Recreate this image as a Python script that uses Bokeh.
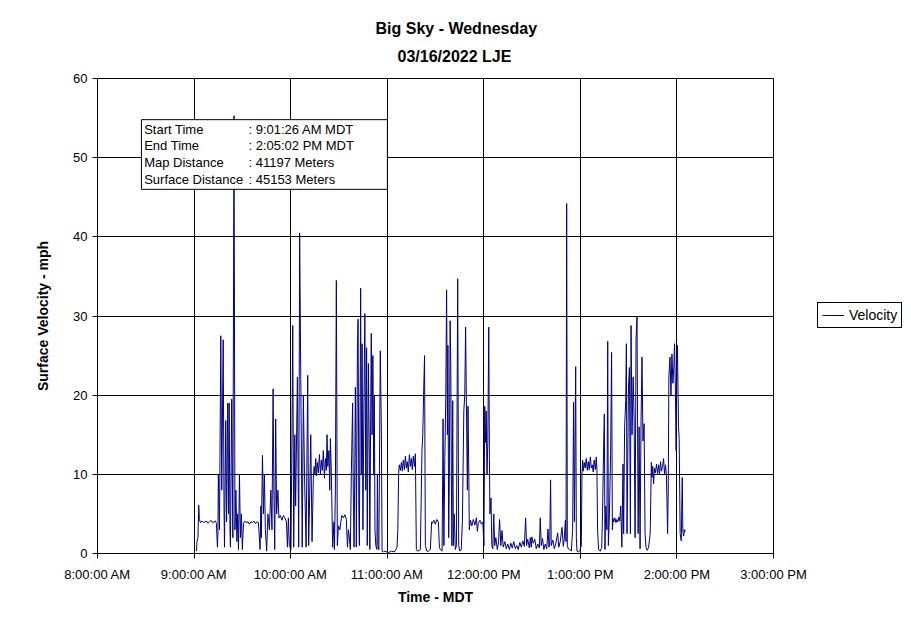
from bokeh.plotting import figure
from bokeh.models import (Range1d, FixedTicker, Title, Legend, LegendItem,
                          BoxAnnotation, Label)
from bokeh.embed import file_html
from bokeh.resources import INLINE

# ---------------- data ----------------
title_line1 = "Big Sky - Wednesday"
title_line2 = "03/16/2022 LJE"
x_label = "Time - MDT"
y_label = "Surface Velocity - mph"
series_name = "Velocity"

# tick positions (minutes after 8:00 AM) and labels
tick_minutes = [0, 60, 120, 180, 240, 300, 360, 420]
tick_labels = ["8:00:00 AM", "9:00:00 AM", "10:00:00 AM", "11:00:00 AM",
               "12:00:00 PM", "1:00:00 PM", "2:00:00 PM", "3:00:00 PM"]
y_ticks = [0, 10, 20, 30, 40, 50, 60]

info_names = ["Start Time", "End Time", "Map Distance", "Surface Distance"]
info_values = [": 9:01:26 AM MDT", ": 2:05:02 PM MDT", ": 41197 Meters", ": 45153 Meters"]

# time in minutes after 8:00 AM
minutes = [
    61.5, 61.8, 62.4, 62.9, 63.3, 64.0, 64.9, 65.8, 66.8, 67.7, 68.6, 69.6, 70.5, 71.4, 72.4, 73.3, 73.9,
    74.5, 74.8, 75.1, 75.8, 76.6, 77.2, 78.1, 78.6, 78.9, 79.7, 80.2, 80.9, 81.4, 81.8, 82.3, 82.6,
    83.4, 84.1, 84.8, 85.4, 86.0, 86.6, 87.1, 87.6, 88.2, 88.8, 89.4, 90.0,
    90.7, 91.6, 92.5, 93.5, 94.4, 95.3, 96.3, 97.2, 98.1, 99.1, 100.0,
    101.0, 101.5, 101.8, 102.5, 103.1, 103.7, 104.3, 105.1, 105.9, 106.8, 107.7, 108.4, 109.1, 109.6,
    110.1, 110.7, 111.3, 112.1, 112.7, 113.6, 114.6, 115.5, 116.4, 117.4, 118.0, 118.6, 119.2,
    120.2, 120.7, 121.3, 121.7, 121.9, 122.6, 123.1, 124.2, 125.0, 125.6, 126.3, 126.9, 127.2, 127.9,
    128.6, 129.6, 130.6, 131.2, 131.7, 132.5, 133.3,
    134.1, 134.6, 135.1, 135.6, 136.0, 136.6, 137.2, 137.9, 138.5, 139.1, 139.7, 140.3, 141.0, 141.6,
    142.2, 142.6, 143.1, 143.8, 144.3, 144.7, 145.3, 146.1,
    146.9, 147.2, 147.8, 148.4, 149.0, 149.7, 150.6, 151.2, 151.8, 152.8, 153.7, 154.6, 155.3, 155.9,
    156.5, 157.1, 157.7, 158.5, 158.9, 159.4, 159.9, 160.2, 160.7, 160.8, 161.5, 161.9, 162.4, 162.7,
    163.5, 163.9, 164.4, 164.9, 165.5, 166.1, 166.7, 167.2, 167.6, 168.3, 168.9, 169.2, 169.8, 170.1,
    170.6, 171.1, 171.6, 172.0, 172.4, 172.9, 173.6, 173.9, 174.3, 174.8, 175.7, 176.4, 176.8,
    177.6, 178.8, 180.7, 182.6, 184.5, 186.1,
    186.6, 187.1, 187.5, 188.2, 188.8, 189.4, 190.0, 190.7, 191.3, 191.9, 192.5, 193.1, 193.8, 194.4,
    195.0, 195.6, 196.2, 196.9, 197.5,
    198.1, 198.7, 199.8, 200.6, 201.6, 202.1, 202.6, 203.2, 203.7, 204.6, 205.6, 206.8, 207.6, 208.0,
    209.0, 209.9, 210.8, 211.8, 212.4,
    213.0, 214.1, 214.7, 215.2, 215.8, 216.4, 216.9, 217.4, 217.7, 218.2, 218.6, 219.1, 219.5, 219.9,
    220.2, 220.7, 221.1, 221.7, 222.3, 223.0, 223.8, 224.4, 225.1, 226.0, 226.7, 227.6, 228.2, 228.7,
    229.2, 229.8, 230.2, 230.7, 231.0, 231.7, 232.6, 233.5, 234.5, 235.4, 236.0, 236.6, 237.6, 238.5,
    239.4, 240.1, 240.6, 241.0, 241.5, 242.0, 242.5, 243.1, 243.5, 243.8, 244.5, 245.0,
    245.6, 246.2, 246.8, 247.5, 248.4, 249.2, 249.8, 250.6, 251.3, 252.1, 253.1, 254.0, 254.9, 255.9,
    256.8, 257.7, 258.6, 259.6, 260.5, 261.4, 262.4, 263.3, 264.2, 265.2, 266.0, 266.6, 267.3, 268.3,
    268.9, 269.5, 269.9, 270.7, 271.7, 272.6, 273.5, 274.5, 275.1, 275.7, 276.5, 277.3, 278.2, 279.1,
    279.9, 280.5, 281.0, 281.5, 281.9, 282.9, 283.8, 284.7, 285.9, 286.6, 287.5, 288.6, 289.4, 290.0,
    290.7, 291.1, 291.5, 291.9, 292.5, 293.5, 294.4, 295.2, 295.8, 296.3, 297.1, 297.5, 297.9, 298.8,
    299.7,
    300.6, 301.0, 301.4, 301.8, 302.4, 303.0, 303.7, 304.3, 304.9, 305.5, 306.2, 306.8, 307.4, 308.0,
    308.6, 309.3, 309.9, 310.3,
    310.7, 311.3, 312.4, 313.3, 313.8, 314.5, 314.9, 315.3, 315.8, 316.5, 317.0, 317.4, 318.0, 318.8,
    319.4, 319.9, 320.3, 320.8, 321.4, 322.1, 322.7, 323.3, 323.9, 324.5, 325.1, 325.8, 326.5, 326.9,
    327.5, 328.2, 328.6, 329.0, 329.9, 330.5, 331.1, 331.5, 332.1, 332.8, 333.4, 334.0, 334.6, 335.2,
    335.9, 336.5, 337.1, 337.7, 338.3, 338.9, 339.6, 340.2, 340.8, 341.6, 342.4, 343.4,
    344.1, 344.5, 345.0, 345.5, 346.1, 346.7, 347.3, 348.0, 348.6, 349.2, 349.8, 350.4, 351.1, 351.7,
    352.3, 352.9, 353.5, 354.2, 354.6, 355.0, 355.7, 356.3, 356.9, 357.5, 358.1, 358.5, 359.1, 359.5,
    360.0, 360.3, 361.0, 361.4, 362.0, 362.7, 363.3, 363.7, 364.2, 364.6, 364.8, 365.0,
]

velocity = [
    0.3, 1.5, 2.0, 6.1, 4.3, 3.9, 4.1, 3.9, 4.0, 4.1, 3.8, 4.0, 4.2, 3.9, 4.0, 4.1, 3.8,
    0.8, 2.5, 10.0, 3.0, 27.5, 8.0, 27.0, 6.0, 0.8, 16.8, 4.0, 19.0, 5.0, 19.0, 3.0, 0.8,
    19.5, 2.0, 55.3, 3.0, 8.0, 1.5, 5.0, 0.5, 10.0, 2.0, 5.0, 0.5,
    3.8, 4.1, 3.9, 4.0, 3.7, 4.0, 3.9, 4.1, 3.8, 4.0, 3.9,
    0.5, 6.0, 2.0, 12.4, 5.0, 10.0, 3.0, 0.3, 5.0, 3.0, 8.0, 3.0, 20.8, 8.0,
    0.5, 17.0, 5.0, 8.0, 4.5, 4.8, 4.2, 4.8, 4.5, 4.0, 0.8, 4.5, 1.0,
    0.5, 12.0, 28.8, 10.0, 0.8, 15.0, 6.0, 22.3, 0.8, 40.5, 22.0, 8.0, 0.8, 20.0,
    10.0, 0.8, 22.5, 1.0, 6.0, 15.0, 1.5,
    9.5, 11.0, 10.0, 12.0, 9.8, 11.5, 10.2, 12.5, 10.0, 11.8, 10.5, 13.0, 9.5, 12.0,
    10.5, 15.0, 11.0, 13.0, 8.0, 14.5, 10.0, 0.8,
    4.0, 0.5, 8.0, 34.5, 1.0, 3.5, 3.0, 4.0, 4.8, 4.5, 4.9, 4.3, 0.8, 3.0,
    2.0, 0.5, 10.0, 19.0, 8.0, 0.8, 12.0, 21.0, 10.0, 0.8, 26.0, 29.6, 5.0, 1.0,
    33.5, 10.0, 26.5, 3.0, 18.0, 30.3, 8.0, 26.0, 1.0, 24.0, 12.0, 0.5, 20.0, 27.8,
    15.0, 25.0, 10.0, 20.0, 3.0, 1.0, 0.5, 10.0, 1.0, 0.5, 25.6, 15.0, 0.3,
    0.2, 0.3, 0.1, 0.3, 0.2, 0.8,
    3.0, 10.2, 11.2, 10.5, 11.5, 10.4, 11.8, 10.6, 12.3, 10.8, 11.6, 10.3, 12.5, 11.0,
    12.0, 10.6, 12.3, 11.0, 12.6,
    0.5, 0.3, 0.4, 0.5, 13.0, 15.0, 20.0, 25.0, 1.0, 0.3, 0.3, 0.5, 4.0, 3.8,
    4.2, 3.7, 4.3, 4.0, 0.8,
    0.5, 0.3, 17.0, 1.0, 12.0, 20.0, 33.3, 15.0, 26.3, 2.0, 10.0, 29.4, 23.7, 8.0,
    1.0, 19.3, 1.0, 5.0, 0.5, 1.0, 34.7, 1.0, 0.3, 0.5, 4.0, 18.0, 20.0, 28.6,
    19.0, 8.0, 18.6, 10.0, 3.0, 4.2, 3.5, 4.3, 3.6, 4.5, 2.8, 3.8, 4.2, 3.7,
    4.0, 1.0, 18.6, 14.0, 18.0, 10.0, 14.0, 28.6, 12.0, 5.0, 7.0, 1.0,
    0.6, 5.0, 1.0, 2.0, 0.5, 1.5, 4.3, 1.0, 2.9, 0.8, 1.5, 0.6, 1.2, 0.5,
    1.3, 0.7, 1.5, 0.6, 1.0, 0.5, 1.4, 0.8, 1.6, 0.9, 4.5, 1.0, 1.8, 0.7,
    2.0, 0.8, 2.1, 1.3, 1.8, 0.6, 1.2, 0.7, 4.5, 1.0, 1.9, 0.5, 1.2, 0.6,
    3.1, 0.8, 1.5, 9.3, 1.0, 1.7, 0.6, 1.2, 2.6, 0.8, 1.5, 3.3, 0.9, 1.8,
    4.2, 1.5, 44.2, 1.0, 0.6, 0.5, 0.3, 3.0, 19.1, 4.0, 23.6, 2.0, 0.3, 0.2,
    0.4,
    1.0, 10.0, 11.8, 10.4, 11.5, 10.8, 12.0, 10.5, 11.6, 10.6, 12.2, 10.8, 11.2, 10.3,
    11.8, 10.6, 12.2, 10.5,
    3.0, 0.5, 0.3, 0.8, 5.4, 14.0, 17.6, 0.5, 6.0, 3.0, 26.8, 1.0, 4.5, 12.6,
    25.4, 3.0, 4.4, 4.0, 4.5, 3.9, 4.3, 4.0, 4.6, 4.1, 6.0, 0.8, 11.3, 2.5,
    16.0, 19.3, 26.5, 2.5, 21.0, 23.5, 2.5, 28.8, 15.0, 22.3, 17.0, 2.0, 26.9, 30.0,
    2.5, 16.0, 0.6, 16.8, 24.8, 14.2, 16.4, 2.5, 0.8, 0.4, 0.8, 2.5,
    11.5, 9.6, 11.0, 8.8, 10.8, 10.2, 11.3, 10.1, 11.2, 10.0, 11.6, 10.4, 11.0, 12.0,
    10.0, 11.2, 9.8, 2.5, 8.0, 22.3, 24.8, 20.0, 25.2, 21.5, 23.6, 26.5, 20.0, 13.0,
    25.6, 26.3, 16.0, 14.5, 2.5, 1.6, 9.6, 2.8, 2.2, 3.0, 2.7, 3.0,
]

# ---------------- figure ----------------
FONT = "Liberation Sans"

p = figure(width=903, height=615, output_backend="svg", toolbar_location=None,
           x_range=Range1d(0, 420), y_range=Range1d(0, 60),
           frame_width=676, frame_height=475,
           min_border_left=97, min_border_right=130,
           min_border_top=78, min_border_bottom=62,
           background_fill_color="white", border_fill_color="white")

p.add_layout(Title(text=title_line2, align="left", offset=300, text_font=FONT,
                   text_font_size="16px", text_font_style="bold", text_color="black",
                   standoff=23, vertical_align="top"), "above")
p.add_layout(Title(text=title_line1, align="left", offset=278, text_font=FONT,
                   text_font_size="16px", text_font_style="bold", text_color="black",
                   standoff=0, vertical_align="bottom"), "above")

line_r = p.line(minutes, velocity, line_color="#000080", line_width=1)

# axes
p.xaxis.ticker = FixedTicker(ticks=tick_minutes)
p.xaxis.major_label_overrides = {t: lab for t, lab in zip(tick_minutes, tick_labels)}
p.yaxis.ticker = FixedTicker(ticks=y_ticks)
for ax in (p.xaxis, p.yaxis):
    ax.axis_line_color = "black"
    ax.major_tick_line_color = "black"
    ax.major_tick_out = 5
    ax.major_tick_in = 0
    ax.minor_tick_line_color = None
    ax.major_label_text_font = FONT
    ax.major_label_text_font_size = "13px"
    ax.major_label_text_color = "black"
    ax.axis_label_text_font = FONT
    ax.axis_label_text_font_size = "14px"
    ax.axis_label_text_font_style = "bold"
    ax.axis_label_text_color = "black"
p.xaxis.axis_label = x_label
p.yaxis.axis_label = y_label
p.xaxis.major_label_standoff = 8
p.yaxis.major_label_standoff = 5
p.xaxis.axis_label_standoff = 4
p.yaxis.axis_label_standoff = 19

p.xgrid.ticker = FixedTicker(ticks=tick_minutes)
p.ygrid.ticker = FixedTicker(ticks=y_ticks)
p.grid.grid_line_color = "black"
p.grid.grid_line_width = 1
p.grid.grid_line_alpha = 1.0
p.outline_line_color = "black"
p.outline_line_width = 1

# info box
p.add_layout(BoxAnnotation(left=27.3, right=180.1, bottom=46.0, top=54.8,
                           fill_color="white", fill_alpha=1.0,
                           line_color="black", line_width=1, line_alpha=1.0))
info_y = [53.6, 51.5, 49.4, 47.2]
for name, val, yy in zip(info_names, info_values, info_y):
    p.add_layout(Label(x=29.0, y=yy, text=name, text_font=FONT, text_font_size="13px",
                       text_baseline="middle", text_color="black"))
    p.add_layout(Label(x=93.8, y=yy, text=val, text_font=FONT, text_font_size="13px",
                       text_baseline="middle", text_color="black"))

# legend (outside, right of the plot area)
legend = Legend(items=[LegendItem(label=series_name, renderers=[line_r])],
                location=(44, 225), orientation="vertical",
                border_line_color="black", border_line_width=1, border_line_alpha=1.0,
                background_fill_color="white", background_fill_alpha=1.0,
                label_text_font=FONT, label_text_font_size="14px", label_text_color="black",
                padding=4, margin=0, spacing=0, glyph_width=22, glyph_height=14,
                label_height=14, label_standoff=5)
p.add_layout(legend, "right")

open("out.html", "w").write(file_html(p, INLINE))
